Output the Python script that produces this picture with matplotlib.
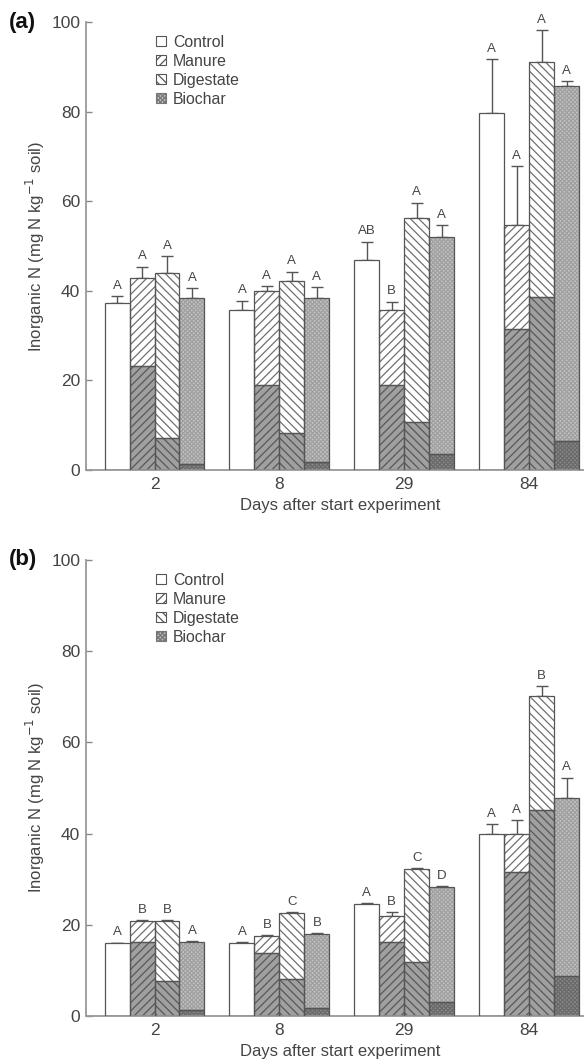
import numpy as np
import matplotlib
matplotlib.use('Agg')
import matplotlib.pyplot as plt
from matplotlib.patches import Patch

days = ['2', '8', '29', '84']
treatments = ['Control', 'Manure', 'Digestate', 'Biochar']

# panel (a): total, lower (darker) part, upper error
control_a = [37.2, 35.7, 46.9, 79.8]
control_a_err = [1.6, 2.1, 4.1, 11.9]
manure_a = [42.8, 40.0, 35.7, 54.7]
manure_a_low = [23.2, 19.0, 19.0, 31.4]
manure_a_err = [2.6, 1.1, 1.9, 13.2]
digestate_a = [43.9, 42.2, 56.2, 91.1]
digestate_a_low = [7.2, 8.3, 10.8, 38.7]
digestate_a_err = [3.9, 2.1, 3.5, 7.1]
biochar_a = [38.3, 38.3, 51.9, 85.7]
biochar_a_low = [1.3, 1.8, 3.5, 6.5]
biochar_a_err = [2.3, 2.6, 2.7, 1.1]
letters_a = [['A', 'A', 'AB', 'A'],
             ['A', 'A', 'B', 'A'],
             ['A', 'A', 'A', 'A'],
             ['A', 'A', 'A', 'A']]

# panel (b)
control_b = [15.9, 16.1, 24.5, 39.9]
control_b_err = [0.2, 0.2, 0.3, 2.2]
manure_b = [20.8, 17.6, 21.9, 39.9]
manure_b_low = [16.3, 13.9, 16.3, 31.5]
manure_b_err = [0.3, 0.2, 0.8, 3.1]
digestate_b = [20.8, 22.5, 32.2, 70.2]
digestate_b_low = [7.7, 8.2, 11.9, 45.2]
digestate_b_err = [0.2, 0.2, 0.2, 2.2]
biochar_b = [16.2, 17.9, 28.2, 47.9]
biochar_b_low = [1.3, 1.8, 3.1, 8.8]
biochar_b_err = [0.3, 0.2, 0.2, 4.4]
letters_b = [['A', 'A', 'A', 'A'],
             ['B', 'B', 'B', 'A'],
             ['B', 'C', 'C', 'B'],
             ['A', 'B', 'D', 'A']]

plt.rcParams['font.family'] = ['Liberation Sans', 'DejaVu Sans']
plt.rcParams['hatch.linewidth'] = 0.9

EDGE = '#555555'
TEXT = '#444444'
# (upper face, upper hatch, upper hatch colour, lower face, lower hatch, lower hatch colour)
styles = [
    ('white', '', None, None, '', None),
    ('white', '////', '#707070', '#a0a0a0', '////', '#585858'),
    ('white', '\\\\\\\\', '#707070', '#a0a0a0', '\\\\\\\\', '#585858'),
    ('#c4c4c4', 'xxxxxxxx', '#a0a0a0', '#8a8a8a', 'xxxxxxxx', '#6a6a6a'),
]


def hbar(ax, x, bottom, height, face, hatch, hcolor, width):
    ax.bar(x, height, width, bottom=bottom, color=face, hatch=hatch,
           edgecolor=hcolor if hatch else face, linewidth=0, zorder=2)
    ax.bar(x, height, width, bottom=bottom, fill=False,
           edgecolor=EDGE, linewidth=0.9, zorder=3)


def draw_panel(ax, totals, lows, errs, letters, tag):
    x = np.arange(len(days))
    width = 0.2
    offsets = [-0.3, -0.1, 0.1, 0.3]
    for k in range(4):
        face, hatch, hcol, lface, lhatch, lhcol = styles[k]
        xs = x + offsets[k]
        tot = np.array(totals[k])
        if lows[k] is None:
            hbar(ax, xs, 0, tot, face, hatch, hcol, width)
        else:
            low = np.array(lows[k])
            hbar(ax, xs, 0, low, lface, lhatch, lhcol, width)
            hbar(ax, xs, low, tot - low, face, hatch, hcol, width)
        err = np.array(errs[k])
        ax.errorbar(xs, tot, yerr=[np.zeros(4), err], fmt='none',
                    ecolor=EDGE, elinewidth=1.0, capsize=4.5, capthick=1.0, zorder=1)
        for i in range(4):
            ax.annotate(letters[k][i], (xs[i], tot[i] + err[i]), xytext=(0, 3),
                        textcoords='offset points', ha='center', va='bottom',
                        fontsize=9.5, color=TEXT)

    ax.set_xlim(-0.55, 3.44)
    ax.set_ylim(0, 100)
    ax.set_yticks([0, 20, 40, 60, 80, 100])
    ax.set_xticks(x)
    ax.set_xticklabels(days)
    ax.tick_params(axis='y', direction='in', length=4, width=1, colors='#888888',
                   labelcolor=TEXT, labelsize=12.5, pad=4)
    ax.tick_params(axis='x', length=0, labelcolor=TEXT, labelsize=12.5, pad=5)
    for s in ['top', 'right']:
        ax.spines[s].set_visible(False)
    for s in ['left', 'bottom']:
        ax.spines[s].set_color('#999999')
        ax.spines[s].set_linewidth(1.3)
    ax.set_xlabel('Days after start experiment', fontsize=12, color=TEXT)
    ax.set_ylabel('Inorganic N (mg N kg$^{-1}$ soil)', fontsize=12, color=TEXT)
    ax.xaxis.set_label_coords(0.51, -0.062)
    ax.yaxis.set_label_coords(-0.078, 0.5)

    handles = [Patch(facecolor='white', edgecolor=EDGE, linewidth=0.8),
               Patch(facecolor='white', edgecolor=EDGE, hatch='////', linewidth=0.8),
               Patch(facecolor='white', edgecolor=EDGE, hatch='\\\\\\\\', linewidth=0.8),
               Patch(facecolor='#c4c4c4', edgecolor='#777777', hatch='xxxxxxxx', linewidth=0.8)]
    leg = ax.legend(handles, treatments, loc='upper left', bbox_to_anchor=(0.115, 1.0),
                    frameon=False, fontsize=11.4, handlelength=0.65, handleheight=0.65,
                    handletextpad=0.45, labelspacing=0.25, borderpad=0.3)
    for t in leg.get_texts():
        t.set_color(TEXT)
    ax.text(-0.155, 1.0, tag, transform=ax.transAxes, fontsize=16, fontweight='bold',
            ha='left', va='center', color='#111111')


fig = plt.figure(figsize=(5.84, 10.59), dpi=100)
ax_a = fig.add_axes([0.147, 0.5562, 0.853, 0.423])
ax_b = fig.add_axes([0.147, 0.0406, 0.853, 0.4306])

draw_panel(ax_a,
           [control_a, manure_a, digestate_a, biochar_a],
           [None, manure_a_low, digestate_a_low, biochar_a_low],
           [control_a_err, manure_a_err, digestate_a_err, biochar_a_err],
           letters_a, '(a)')
draw_panel(ax_b,
           [control_b, manure_b, digestate_b, biochar_b],
           [None, manure_b_low, digestate_b_low, biochar_b_low],
           [control_b_err, manure_b_err, digestate_b_err, biochar_b_err],
           letters_b, '(b)')

fig.savefig('out.png', dpi=100)
